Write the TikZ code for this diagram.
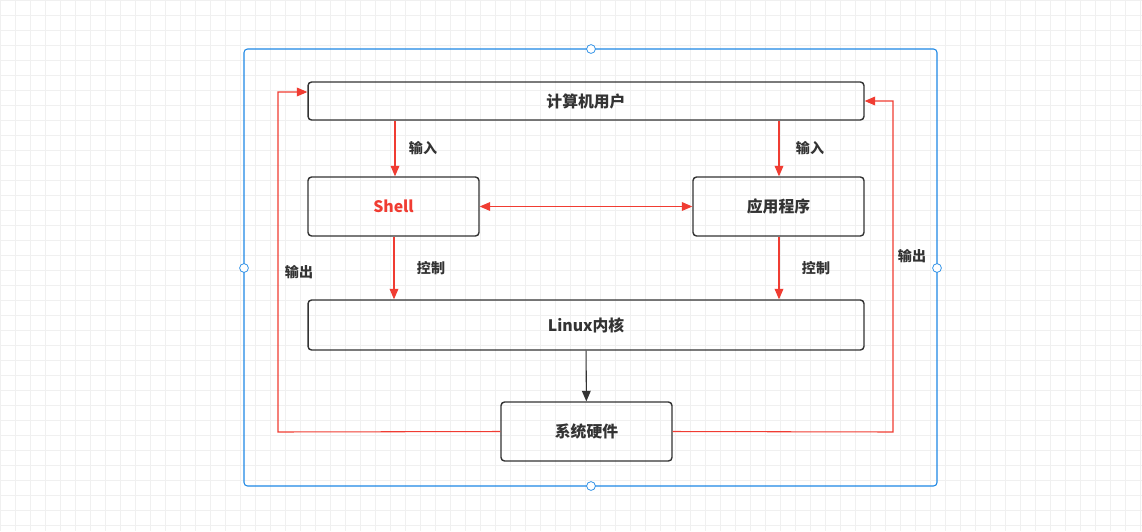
\documentclass[tikz,border=0pt]{standalone}
\usepackage{fontspec}
\setmainfont{Noto Sans CJK SC}
\usetikzlibrary{arrows.meta}
\definecolor{linered}{RGB}{240,60,50}
\definecolor{frameblue}{RGB}{30,136,229}
\definecolor{textgray}{RGB}{51,51,51}
\begin{document}
\begin{tikzpicture}[x=0.02cm, y=-0.02cm,
    box/.style={rectangle, draw=textgray, thick, rounded corners=2pt, inner sep=0pt, font=\bfseries\small, text=textgray},
    arrow/.style={-{Triangle[length=6pt,width=5pt]}, linered, semithick},
    lbl/.style={font=\bfseries\footnotesize, text=textgray},
    handle/.style={circle, draw=frameblue, fill=white, inner sep=0pt, minimum size=5pt}
]
    % background grid
    \fill[white] (0,0) rectangle (1142,531);
    \useasboundingbox (0,0) rectangle (1142,531);
    \foreach \gx in {0,15,...,1140} \draw[gray!12, very thin] (\gx,0) -- (\gx,531);
    \foreach \gy in {0,15,...,530} \draw[gray!12, very thin] (0,\gy) -- (1142,\gy);
    % frame
    \draw[frameblue, semithick, rounded corners=2pt] (244,49) rectangle (937,486);
    \node[handle] at (591,49) {};
    \node[handle] at (591,486) {};
    \node[handle] at (244,268) {};
    \node[handle] at (937,268) {};

    % boxes
    \node[box, minimum width=11.12cm, minimum height=0.76cm] (user) at (586,101) {计算机用户};
    \node[box, minimum width=3.42cm, minimum height=1.18cm, text=linered] (shell) at (393.5,206.5) {Shell};
    \node[box, minimum width=3.42cm, minimum height=1.18cm] (app) at (778.5,206.5) {应用程序};
    \node[box, minimum width=11.12cm, minimum height=1.0cm] (kernel) at (586,325) {Linux内核};
    \node[box, minimum width=3.42cm, minimum height=1.18cm] (hw) at (586.5,431.5) {系统硬件};

    % input / control
    \draw[arrow] (user.south -| 395,0) -- (shell.north -| 395,0);
    \draw[arrow] (user.south -| 779,0) -- (app.north -| 779,0);
    \draw[arrow] (shell.south -| 394,0) -- (kernel.north -| 394,0);
    \draw[arrow] (app.south -| 779,0) -- (kernel.north -| 779,0);
    \draw[arrow, {Triangle[length=6pt,width=5pt]}-{Triangle[length=6pt,width=5pt]}] (shell) -- (app);
    \draw[-{Triangle[length=6pt,width=5pt]}, textgray, semithick] (kernel) -- (hw);
    \node[lbl] at (423,148) {输入};
    \node[lbl] at (810,148) {输入};
    \node[lbl] at (431,268) {控制};
    \node[lbl] at (816,268) {控制};

    % output
    \draw[arrow] (hw.west) -- (278,432) -- (278,92) -- (user.west |- 0,92);
    \draw[arrow] (hw.east) -- (893,432) -- (893,101) -- (user.east);
    \node[lbl] at (299,272) {输出};
    \node[lbl] at (912,256) {输出};
\end{tikzpicture}
\end{document}
